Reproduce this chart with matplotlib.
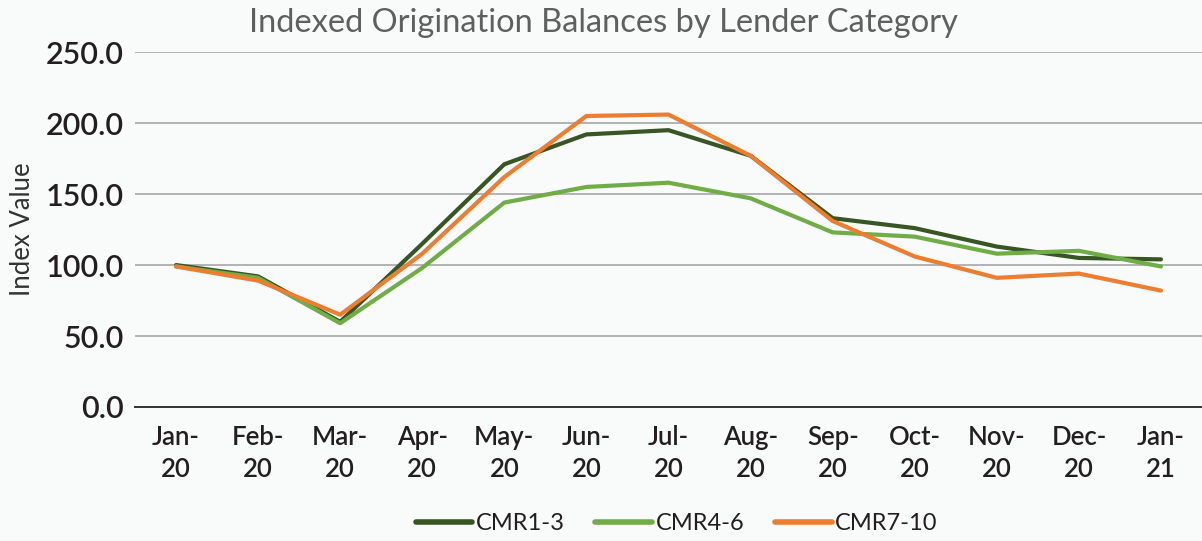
import matplotlib.pyplot as plt
from matplotlib.ticker import FormatStrFormatter

# months on the category axis
months = ["Jan-\n20", "Feb-\n20", "Mar-\n20", "Apr-\n20", "May-\n20", "Jun-\n20",
          "Jul-\n20", "Aug-\n20", "Sep-\n20", "Oct-\n20", "Nov-\n20", "Dec-\n20", "Jan-\n21"]

# index values
cmr_1_3 = [100, 92, 60, 115, 171, 192, 195, 177, 133, 126, 113, 105, 104]
cmr_4_6 = [99, 91, 59, 98, 144, 155, 158, 147, 123, 120, 108, 110, 99]
cmr_7_10 = [99, 89, 65, 108, 162, 205, 206, 177, 131, 106, 91, 94, 82]

series_names = ["CMR1-3", "CMR4-6", "CMR7-10"]
colors = ["#375623", "#70ad47", "#ed7d31"]
yticks = [0, 50, 100, 150, 200, 250]

plt.rcParams['font.family'] = ['Lato', 'DejaVu Sans']

fig = plt.figure(figsize=(12.02, 5.41), dpi=100)
fig.patch.set_facecolor("#f9fafa")
ax = fig.add_axes([0.1123, 0.2477, 0.8877, 0.656])
ax.set_facecolor("none")

x = list(range(len(months)))
lines = []
for vals, name, c in zip([cmr_1_3, cmr_4_6, cmr_7_10], series_names, colors):
    ln, = ax.plot(x, vals, color=c, linewidth=3, label=name, solid_capstyle="round")
    lines.append(ln)

ax.set_xlim(-0.5, len(months) - 0.5)
ax.set_ylim(0, 250)
ax.set_yticks(yticks)
ax.yaxis.set_major_formatter(FormatStrFormatter("%.1f"))
ax.set_xticks(x)
ax.set_xticklabels(months, fontsize=18.5, color="#231f20", fontweight="semibold", linespacing=1.35)
ax.tick_params(axis="y", labelsize=22, labelcolor="#231f20", length=0, pad=8)
for t in ax.get_yticklabels():
    t.set_fontweight("semibold")
ax.tick_params(axis="x", length=0, pad=13)

ax.grid(axis="y", color="#b3b3b3", linewidth=1.4)
ax.set_axisbelow(True)
for s in ["top", "right", "left"]:
    ax.spines[s].set_visible(False)
ax.spines["bottom"].set_color("#333333")
ax.spines["bottom"].set_linewidth(1.4)

ax.set_ylabel("Index Value", fontsize=18.5, color="#333333")
ax.yaxis.set_label_coords(-0.094, 0.5)

fig.text(0.502, 0.958, "Indexed Origination Balances by Lender Category",
         ha="center", va="center", fontsize=23.5, color="#5f5f5f")

fig.legend(handles=lines, loc="center", bbox_to_anchor=(0.563, 0.032), ncol=3, frameon=False,
           fontsize=17, handlelength=2.4, handletextpad=0.15, columnspacing=1.3,
           labelcolor="#231f20")
for lh in fig.legends[0].get_lines():
    lh.set_linewidth(4)

fig.savefig("out.png", dpi=100, facecolor=fig.get_facecolor())
